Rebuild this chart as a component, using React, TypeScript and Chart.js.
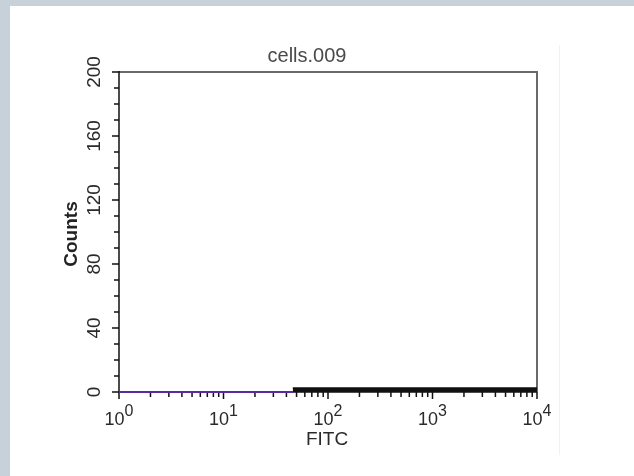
import React, { useEffect, useRef } from "react";
import { Chart, registerables } from "chart.js";

Chart.register(...registerables);

// Histogram of FITC intensity for sample cells.009
const chartTitle = "cells.009";
const xAxisTitle = "FITC";
const yAxisTitle = "Counts";

// Empty channels at the low end (drawn in purple along the baseline)
const lowFitc = [1, 46];
const lowCounts = [0, 0];

// Sparse events from ~46 up to the top of the range
const highFitc = [46, 100, 300, 1000, 3000, 10000];
const highCounts = [2.5, 2.5, 2.5, 2.5, 2.5, 2.5];

const xDecades = [1, 10, 100, 1000, 10000];
const xDecadeExponents = ["0", "1", "2", "3", "4"];
const yMajorTicks = [0, 40, 80, 120, 160, 200];

const FONT = '"Liberation Sans", Arial, Helvetica, sans-serif';

const framePlugin = {
  id: "frame",
  beforeDraw(chart: any) {
    const { ctx, width, height } = chart;
    ctx.save();
    ctx.fillStyle = "#c6d1d9";
    ctx.fillRect(0, 0, width, height);
    ctx.fillStyle = "#ffffff";
    ctx.fillRect(10, 6, width - 10, height - 6);
    ctx.strokeStyle = "#f1f1f1";
    ctx.lineWidth = 1;
    ctx.beginPath();
    ctx.moveTo(559.5, 45);
    ctx.lineTo(559.5, 455);
    ctx.stroke();
    ctx.restore();
  },
  beforeDatasetsDraw(chart: any) {
    const { ctx, chartArea } = chart;
    const { left, right, top, bottom } = chartArea;
    const xs = chart.scales.x;
    const ys = chart.scales.y;
    ctx.save();

    // top and right frame
    ctx.strokeStyle = "#6a6a6a";
    ctx.lineWidth = 2;
    ctx.beginPath();
    ctx.moveTo(left, top);
    ctx.lineTo(right, top);
    ctx.lineTo(right, bottom);
    ctx.stroke();

    // left and bottom axes
    ctx.strokeStyle = "#111";
    ctx.lineWidth = 1.5;
    ctx.beginPath();
    ctx.moveTo(left, top - 1);
    ctx.lineTo(left, bottom);
    ctx.lineTo(right, bottom);
    ctx.stroke();

    // y ticks: major every 40, minor every 10
    ctx.lineWidth = 1.5;
    ctx.beginPath();
    for (let v = 0; v <= 200; v += 10) {
      const y = ys.getPixelForValue(v);
      const len = v % 40 === 0 ? 7 : 5;
      ctx.moveTo(left - len, y);
      ctx.lineTo(left, y);
    }
    ctx.stroke();

    // x ticks: log decades with 2..9 minors
    ctx.beginPath();
    for (let d = 0; d < xDecades.length; d++) {
      const base = xDecades[d];
      const xp = xs.getPixelForValue(base);
      ctx.moveTo(xp, bottom);
      ctx.lineTo(xp, bottom + 7);
      if (d < xDecades.length - 1) {
        for (let m = 2; m <= 9; m++) {
          const xm = xs.getPixelForValue(base * m);
          ctx.moveTo(xm, bottom);
          ctx.lineTo(xm, bottom + 5);
        }
      }
    }
    ctx.stroke();

    // x tick labels with superscript exponents
    ctx.fillStyle = "#2a2a2a";
    ctx.textBaseline = "alphabetic";
    for (let d = 0; d < xDecades.length; d++) {
      const xp = xs.getPixelForValue(xDecades[d]);
      ctx.font = `18px ${FONT}`;
      const wBase = ctx.measureText("10").width;
      ctx.font = `16px ${FONT}`;
      const wExp = ctx.measureText(xDecadeExponents[d]).width;
      const x0 = xp - (wBase + wExp) / 2;
      ctx.font = `18px ${FONT}`;
      ctx.textAlign = "left";
      ctx.fillText("10", x0, bottom + 33);
      ctx.font = `16px ${FONT}`;
      ctx.fillText(xDecadeExponents[d], x0 + wBase, bottom + 24);
    }

    // x axis title
    ctx.font = `19px ${FONT}`;
    ctx.textAlign = "center";
    ctx.textBaseline = "middle";
    ctx.fillText(xAxisTitle, (left + right) / 2 - 1, bottom + 48);

    // y tick labels, rotated
    for (const v of yMajorTicks) {
      const y = ys.getPixelForValue(v);
      ctx.save();
      ctx.translate(left - 24, y);
      ctx.rotate(-Math.PI / 2);
      ctx.font = `19px ${FONT}`;
      ctx.textAlign = "center";
      ctx.textBaseline = "middle";
      ctx.fillText(String(v), 0, 0);
      ctx.restore();
    }

    // y axis title
    ctx.save();
    ctx.translate(left - 47, (top + bottom) / 2 + 2);
    ctx.rotate(-Math.PI / 2);
    ctx.font = `bold 19px ${FONT}`;
    ctx.textAlign = "center";
    ctx.textBaseline = "middle";
    ctx.fillStyle = "#222";
    ctx.fillText(yAxisTitle, 0, 0);
    ctx.restore();

    // chart title
    ctx.font = `20px ${FONT}`;
    ctx.fillStyle = "#4a4a4a";
    ctx.textAlign = "center";
    ctx.textBaseline = "middle";
    ctx.fillText(chartTitle, 307, top - 16);

    ctx.restore();
  },
};

export default function App() {
  const canvasRef = useRef<HTMLCanvasElement | null>(null);

  useEffect(() => {
    if (!canvasRef.current) return;
    const chart = new Chart(canvasRef.current, {
      type: "scatter",
      data: {
        datasets: [
          {
            data: lowFitc.map((x, i) => ({ x, y: lowCounts[i] })),
            showLine: true,
            borderColor: "#5b2a9e",
            borderWidth: 2,
            pointRadius: 0,
            clip: 6,
          } as any,
          {
            data: highFitc.map((x, i) => ({ x, y: highCounts[i] })),
            showLine: true,
            stepped: true,
            borderColor: "#111",
            backgroundColor: "#111",
            borderWidth: 1.5,
            fill: "origin",
            pointRadius: 0,
            clip: 6,
          } as any,
        ],
      },
      options: {
        animation: false,
        responsive: false,
        devicePixelRatio: 1,
        layout: { padding: { left: 119, top: 72, right: 97, bottom: 84 } },
        plugins: {
          legend: { display: false },
          tooltip: { enabled: false },
          title: { display: false },
        },
        scales: {
          x: { type: "logarithmic", min: 1, max: 10000, display: false },
          y: { type: "linear", min: 0, max: 200, display: false },
        },
      },
      plugins: [framePlugin],
    });
    return () => chart.destroy();
  }, []);

  return (
    <div style={{ position: "fixed", left: 0, top: 0, width: 634, height: 476 }}>
      <canvas ref={canvasRef} width={634} height={476} style={{ display: "block" }} />
    </div>
  );
}
